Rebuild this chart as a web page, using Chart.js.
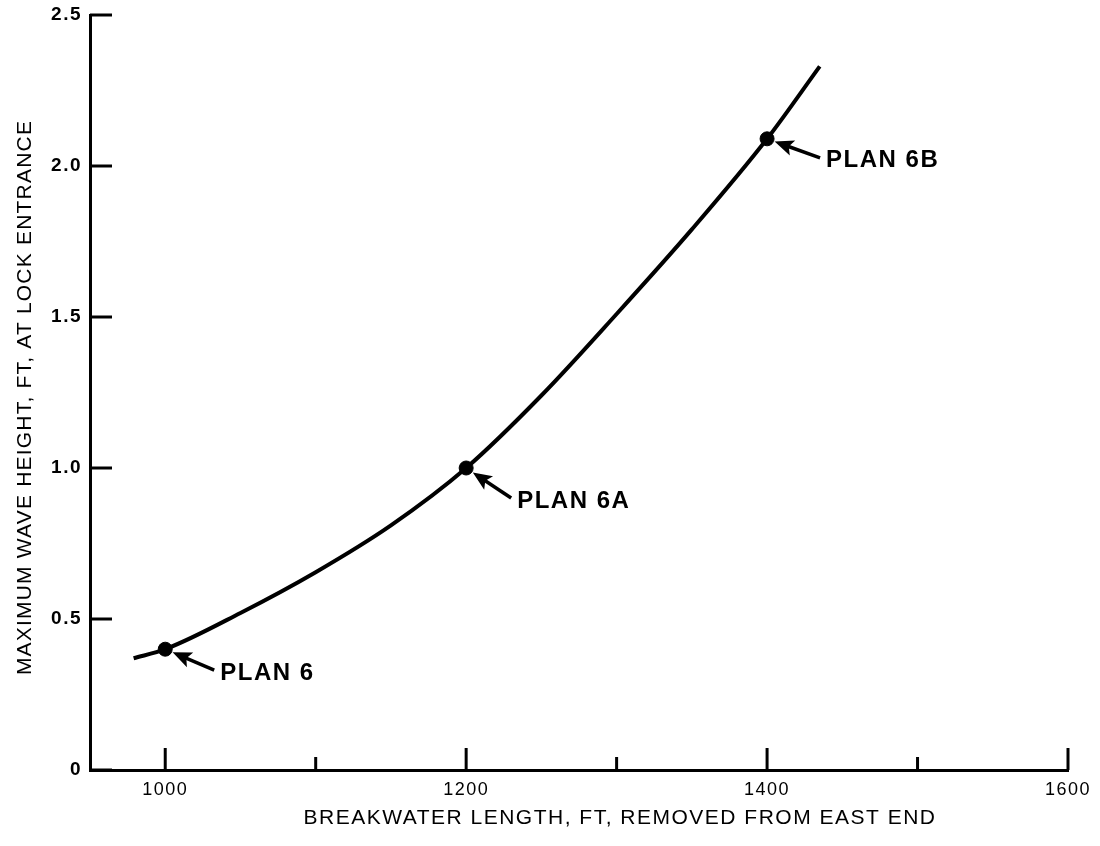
<!DOCTYPE html>
<html>
<head>
<meta charset="utf-8">
<script src="https://cdn.jsdelivr.net/npm/chart.js@4"></script>
<style>
  body { margin: 0; background: #fff; }
</style>
</head>
<body>
<canvas id="chart" width="1100" height="846"></canvas>
<script>
// curve
const curveX = [979, 1000, 1050, 1100, 1150, 1200, 1250, 1300, 1350, 1400, 1435];
const curveY = [0.37, 0.40, 0.52, 0.655, 0.81, 1.00, 1.24, 1.51, 1.79, 2.09, 2.33];

// the three plans
const planNames = ["PLAN 6", "PLAN 6A", "PLAN 6B"];
const planX = [1000, 1200, 1400];
const planY = [0.40, 1.00, 2.09];

// axes
const xTicks = [1000, 1100, 1200, 1300, 1400, 1500, 1600];
const xTickLabels = ["1000", "", "1200", "", "1400", "", "1600"];
const yTicks = [0, 0.5, 1.0, 1.5, 2.0, 2.5];
const yTickLabels = ["0", "0.5", "1.0", "1.5", "2.0", "2.5"];
const xTitle = "BREAKWATER LENGTH, FT, REMOVED FROM EAST END";
const yTitle = "MAXIMUM WAVE HEIGHT, FT, AT LOCK ENTRANCE";

// where the arrows' tails sit relative to each plan point (px)
const arrowTail = [[49, 21], [45, 30], [53, 19]];

const FONT = "'Liberation Sans', Arial, Helvetica, sans-serif";

const extras = {
  id: "extras",
  beforeDraw(chart) {
    // the original lettering is wide, space the tick labels out a little
    chart.ctx.letterSpacing = "1.5px";
  },
  afterDraw(chart) {
    const ctx = chart.ctx;
    const x = chart.scales.x, y = chart.scales.y;
    ctx.save();
    ctx.strokeStyle = "#000";
    ctx.fillStyle = "#000";
    ctx.lineWidth = 3;
    ctx.lineCap = "butt";
    // ticks point into the plot
    xTicks.forEach((v, i) => {
      const px = x.getPixelForValue(v);
      const len = xTickLabels[i] ? 22 : 13;
      ctx.beginPath();
      ctx.moveTo(px, y.bottom);
      ctx.lineTo(px, y.bottom - len);
      ctx.stroke();
    });
    yTicks.forEach((v) => {
      const py = y.getPixelForValue(v);
      ctx.beginPath();
      ctx.moveTo(x.left, py);
      ctx.lineTo(x.left + 22, py);
      ctx.stroke();
    });

    // axis titles
    ctx.textAlign = "center";
    ctx.textBaseline = "middle";
    ctx.font = "21px " + FONT;
    ctx.letterSpacing = "1.5px";
    ctx.fillText(xTitle, (x.left + x.right) / 2 + 41, 818);
    ctx.save();
    ctx.translate(25, (y.top + y.bottom) / 2 + 5);
    ctx.rotate(-Math.PI / 2);
    ctx.letterSpacing = "1.2px";
    ctx.fillText(yTitle, 0, 0);
    ctx.restore();

    // plan labels with arrows
    ctx.font = "bold 24px " + FONT;
    ctx.letterSpacing = "1.5px";
    ctx.textAlign = "left";
    planNames.forEach((name, i) => {
      const px = x.getPixelForValue(planX[i]);
      const py = y.getPixelForValue(planY[i]);
      const tx = px + arrowTail[i][0], ty = py + arrowTail[i][1];
      const ang = Math.atan2(ty - py, tx - px);
      const c = Math.cos(ang), s = Math.sin(ang);
      const hx = px + 8 * c, hy = py + 8 * s;
      ctx.beginPath();
      ctx.moveTo(hx + 14 * c, hy + 14 * s);
      ctx.lineTo(tx, ty);
      ctx.lineWidth = 3.5;
      ctx.stroke();
      ctx.beginPath();
      ctx.moveTo(hx, hy);
      ctx.lineTo(hx + 19 * c - 8 * s, hy + 19 * s + 8 * c);
      ctx.lineTo(hx + 15 * c, hy + 15 * s);
      ctx.lineTo(hx + 19 * c + 8 * s, hy + 19 * s - 8 * c);
      ctx.closePath();
      ctx.fill();
      ctx.fillText(name, tx + 6, ty + 3);
    });
    ctx.restore();
  }
};

new Chart(document.getElementById("chart"), {
  type: "scatter",
  data: {
    datasets: [
      {
        data: curveX.map((v, i) => ({x: v, y: curveY[i]})),
        showLine: true,
        borderColor: "#000",
        borderWidth: 4,
        pointRadius: 0,
        cubicInterpolationMode: "monotone",
      },
      {
        data: planX.map((v, i) => ({x: v, y: planY[i]})),
        showLine: false,
        pointRadius: 7,
        backgroundColor: "#000",
        borderColor: "#000",
      },
    ],
  },
  options: {
    responsive: false,
    animation: false,
    devicePixelRatio: 1,
    layout: {padding: {top: 15, right: 32, left: 0, bottom: 0}},
    plugins: {legend: {display: false}, tooltip: {enabled: false}},
    scales: {
      x: {
        type: "linear",
        min: 950,
        max: 1600,
        afterBuildTicks: (s) => { s.ticks = xTicks.map((v) => ({value: v})); },
        afterFit: (s) => { s.height = 76; },
        grid: {display: true, drawOnChartArea: false, drawTicks: false},
        border: {display: true, color: "#000", width: 3},
        ticks: {
          color: "#000",
          padding: 9,
          maxRotation: 0,
          autoSkip: false,
          font: {family: FONT, size: 18},
          callback: (v, i) => xTickLabels[i],
        },
      },
      y: {
        type: "linear",
        min: 0,
        max: 2.5,
        afterBuildTicks: (s) => { s.ticks = yTicks.map((v) => ({value: v})); },
        afterFit: (s) => { s.width = 90; s.paddingTop = 0; },
        grid: {display: true, drawOnChartArea: false, drawTicks: false},
        border: {display: true, color: "#000", width: 3},
        ticks: {
          color: "#000",
          padding: 8,
          autoSkip: false,
          font: {family: FONT, size: 19, weight: "bold"},
          callback: (v, i) => yTickLabels[i],
        },
      },
    },
  },
  plugins: [extras],
});
</script>
</body>
</html>
